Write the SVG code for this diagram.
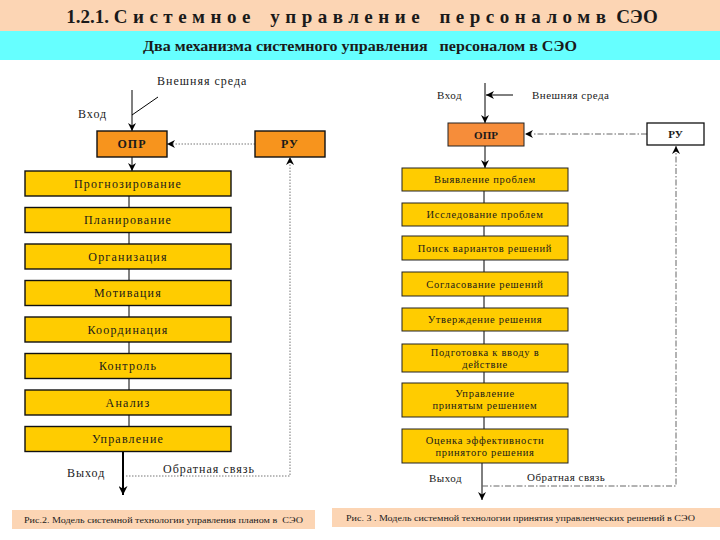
<svg xmlns="http://www.w3.org/2000/svg" width="720" height="540" viewBox="0 0 720 540">
<defs>
<marker id="ah" viewBox="0 0 10 10" refX="10" refY="5" markerWidth="8" markerHeight="8" markerUnits="userSpaceOnUse" orient="auto">
<path d="M0,0 L10,5 L0,10 L3,5 Z" fill="#000"/>
</marker>
<marker id="ahb" viewBox="0 0 10 10" refX="10" refY="5" markerWidth="9" markerHeight="9" markerUnits="userSpaceOnUse" orient="auto">
<path d="M0,0 L10,5 L0,10 L3,5 Z" fill="#000"/>
</marker>
<style>
text{font-family:"Liberation Serif","Times New Roman",serif;fill:#1a1a1a}
.lb{fill:#FFCC00;stroke:#111;stroke-width:1.4}
.rb{fill:#FFCC00;stroke:#222;stroke-width:1}
.lt{font-size:12px;letter-spacing:1.2px;text-anchor:middle}
.rt{font-size:10.5px;letter-spacing:0.7px;text-anchor:middle}
.lab{font-size:12px;letter-spacing:1px}
.rlab{font-size:11px;letter-spacing:0.5px}
.ln{stroke:#000;stroke-width:1;fill:none}
.dot{stroke:#777;stroke-width:1;stroke-dasharray:1.5,1.5;fill:none}
.dd{stroke:#666;stroke-width:1;stroke-dasharray:6,2,1.5,2;fill:none}
.cap{font-size:9px}
</style>
</defs>
<rect x="0" y="0" width="720" height="31" fill="#FCD5B4"/>
<rect x="0" y="31" width="720" height="29" fill="#66FFFF"/>
<text x="362" y="23" text-anchor="middle" font-size="19" font-weight="bold" xml:space="preserve">1.2.1. <tspan letter-spacing="5.5">Системное</tspan>   <tspan letter-spacing="5.5">управление</tspan>   <tspan letter-spacing="5.5">персоналомв</tspan> СЭО</text>
<text x="360" y="51" text-anchor="middle" font-size="14" font-weight="bold" textLength="434" lengthAdjust="spacingAndGlyphs" xml:space="preserve">Два механизма системного управления   персоналом в СЭО</text>

<g id="connectors">
<line class="ln" x1="132" y1="90" x2="132" y2="131" marker-end="url(#ah)"/>
<line class="ln" x1="158" y1="97" x2="132" y2="115"/>
<line class="dot" x1="255" y1="144" x2="167" y2="144" marker-end="url(#ah)"/>
<line class="ln" x1="132" y1="157" x2="132" y2="171" marker-end="url(#ah)"/>
<line class="ln" x1="129" y1="196" x2="129" y2="207.5"/>
<line class="ln" x1="129" y1="232.5" x2="129" y2="244"/>
<line class="ln" x1="129" y1="269" x2="129" y2="280.5"/>
<line class="ln" x1="129" y1="305.5" x2="129" y2="317"/>
<line class="ln" x1="129" y1="342" x2="129" y2="353.5"/>
<line class="ln" x1="129" y1="378.5" x2="129" y2="390"/>
<line class="ln" x1="129" y1="415" x2="129" y2="426.5"/>
<line x1="123" y1="451.5" x2="123" y2="495" stroke="#000" stroke-width="2" marker-end="url(#ahb)"/>
<polyline class="dot" points="126,476 290,476 290,157" marker-end="url(#ah)"/>

<line class="ln" x1="485" y1="83" x2="485" y2="123" marker-end="url(#ah)"/>
<line class="ln" x1="513" y1="95" x2="486" y2="95" marker-end="url(#ah)"/>
<line class="dd" x1="647" y1="134" x2="525" y2="134" marker-end="url(#ah)"/>
<line class="ln" x1="485" y1="146" x2="485" y2="168" marker-end="url(#ah)"/>
<line class="ln" x1="484" y1="191" x2="484" y2="203"/>
<line class="ln" x1="484" y1="226" x2="484" y2="236"/>
<line class="ln" x1="484" y1="260" x2="484" y2="272"/>
<line class="ln" x1="484" y1="296" x2="484" y2="308"/>
<line class="ln" x1="484" y1="331" x2="484" y2="344"/>
<line class="ln" x1="484" y1="372" x2="484" y2="383"/>
<line class="ln" x1="484" y1="417" x2="484" y2="429"/>
<line class="ln" x1="482" y1="463" x2="482" y2="500" marker-end="url(#ah)"/>
<polyline class="dd" points="482,486 676,486 676,146" marker-end="url(#ah)"/>
</g>

<g id="left-labels">
<text class="lab" x="157" y="85">Внешняя среда</text>
<text class="lab" x="78" y="118">Вход</text>
<text class="lab" x="67" y="477" font-size="13">Выход</text>
<text class="lab" x="163" y="473">Обратная связь</text>
</g>

<g id="l-opr"><rect x="97" y="131" width="70" height="26" fill="#F7941D" stroke="#111" stroke-width="1.4"/><text x="132" y="148" text-anchor="middle" font-size="12" font-weight="bold" letter-spacing="1">ОПР</text></g>
<g id="l-ru"><rect x="255" y="131" width="70" height="26" fill="#F7941D" stroke="#111" stroke-width="1.4"/><text x="290" y="148" text-anchor="middle" font-size="12" font-weight="bold" letter-spacing="1">РУ</text></g>
<g id="l1"><rect class="lb" x="25" y="171" width="206" height="25"/><text class="lt" x="128" y="187.5">Прогнозирование</text></g>
<g id="l2"><rect class="lb" x="25" y="207.5" width="206" height="25"/><text class="lt" x="128" y="224">Планирование</text></g>
<g id="l3"><rect class="lb" x="25" y="244" width="206" height="25"/><text class="lt" x="128" y="260.5">Организация</text></g>
<g id="l4"><rect class="lb" x="25" y="280.5" width="206" height="25"/><text class="lt" x="128" y="297">Мотивация</text></g>
<g id="l5"><rect class="lb" x="25" y="317" width="206" height="25"/><text class="lt" x="128" y="333.5">Координация</text></g>
<g id="l6"><rect class="lb" x="25" y="353.5" width="206" height="25"/><text class="lt" x="128" y="370">Контроль</text></g>
<g id="l7"><rect class="lb" x="25" y="390" width="206" height="25"/><text class="lt" x="128" y="406.5">Анализ</text></g>
<g id="l8"><rect class="lb" x="25" y="426.5" width="206" height="25"/><text class="lt" x="128" y="443">Управление</text></g>

<g id="right-labels">
<text class="rlab" x="437" y="99">Вход</text>
<text class="rlab" x="532" y="99">Внешняя среда</text>
<text class="rlab" x="429" y="482" font-size="12">Выход</text>
<text class="rlab" x="527" y="481">Обратная связь</text>
</g>

<g id="r-opr"><rect x="448" y="123" width="76" height="23" fill="#F68D3A" stroke="#222" stroke-width="1"/><text x="486" y="138.5" text-anchor="middle" font-size="11" font-weight="bold">ОПР</text></g>
<g id="r-ru"><rect x="647" y="123" width="57" height="22" fill="#fff" stroke="#111" stroke-width="1.3"/><text x="675.5" y="138" text-anchor="middle" font-size="11" font-weight="bold">РУ</text></g>
<g id="r1"><rect class="rb" x="402" y="168" width="166" height="23"/><text class="rt" x="485" y="183">Выявление проблем</text></g>
<g id="r2"><rect class="rb" x="402" y="203" width="166" height="23"/><text class="rt" x="485" y="218">Исследование проблем</text></g>
<g id="r3"><rect class="rb" x="402" y="236" width="166" height="24"/><text class="rt" x="485" y="251.5">Поиск вариантов решений</text></g>
<g id="r4"><rect class="rb" x="402" y="272" width="166" height="24"/><text class="rt" x="485" y="287.5">Согласование решений</text></g>
<g id="r5"><rect class="rb" x="402" y="308" width="166" height="23"/><text class="rt" x="485" y="323">Утверждение решения</text></g>
<g id="r6"><rect class="rb" x="402" y="344" width="166" height="28"/><text class="rt" x="485" y="356">Подготовка к вводу в</text><text class="rt" x="485" y="367.5">действие</text></g>
<g id="r7"><rect class="rb" x="402" y="383" width="166" height="34"/><text class="rt" x="485" y="397">Управление</text><text class="rt" x="485" y="408.5">принятым решением</text></g>
<g id="r8"><rect class="rb" x="402" y="429" width="166" height="34"/><text class="rt" x="485" y="444">Оценка эффективности</text><text class="rt" x="485" y="455.5">принятого решения</text></g>

<rect x="12" y="510" width="303" height="19" fill="#FCD5B4"/>
<text class="cap" x="24" y="523" textLength="279" lengthAdjust="spacingAndGlyphs" xml:space="preserve">Рис.2. Модель системной технологии управления планом в  СЭО</text>
<rect x="332" y="508" width="388" height="19" fill="#FCD5B4"/>
<text class="cap" x="346" y="521" textLength="349" lengthAdjust="spacingAndGlyphs">Рис. 3 . Модель системной технологии принятия управленческих решений в СЭО</text>
</svg>
